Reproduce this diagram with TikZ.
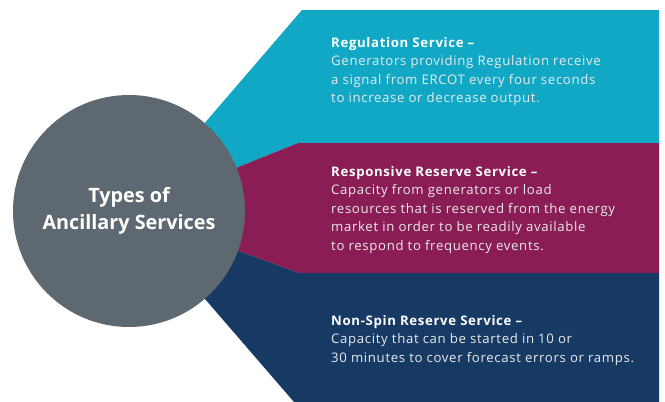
\documentclass[tikz,border=0pt]{standalone}
\usepackage{fontspec}
\setmainfont{Open Sans}
\newfontfamily\descfont{Open Sans}[LetterSpace=5]
\usepackage{tikz}
\usetikzlibrary{calc}

\definecolor{regteal}{RGB}{16,168,197}
\definecolor{rrsplum}{RGB}{139,29,85}
\definecolor{nsnavy}{RGB}{23,58,100}
\definecolor{hubgray}{RGB}{94,104,112}
\definecolor{bodytext}{RGB}{232,234,236}

\begin{document}
\begin{tikzpicture}[x=1pt,y=-1pt]
		\tikzstyle{band}=[draw=none];
		\tikzstyle{hub}=[circle,fill=hubgray,minimum size=232pt,inner sep=0pt,
			text=white,align=center,font=\bfseries\fontsize{19.8}{27}\selectfont];
		\tikzstyle{desc}=[anchor=north west,inner sep=0pt,align=left,text=bodytext,
			font=\descfont\fontsize{13.2}{18.5}\selectfont];
		\useasboundingbox(0,0)rectangle(665,402);
		\coordinate(c)at(129,211);
		\fill[band,regteal](c)--(302,10)--(659,10)--(659,143)--(298,143)--cycle;
		\fill[band,rrsplum](c)--(298,143)--(659,143)--(659,273)--(299,273)--cycle;
		\fill[band,nsnavy](c)--(299,273)--(659,273)--(659,402)--(294,402)--cycle;
		\node[hub](types)at(c){Types of\\Ancillary Services};

		\node[desc](reg)at(331,37){\textbf{\color{white}Regulation Service –}\\
			Generators providing Regulation receive\\
			a signal from ERCOT every four seconds\\
			to increase or decrease output.};
		\node[desc](rrs)at(331,166){\textbf{\color{white}Responsive Reserve Service –}\\
			Capacity from generators or load\\
			resources that is reserved from the energy\\
			market in order to be readily available\\
			to respond to frequency events.};
		\node[desc](nsrs)at(331,315){\textbf{\color{white}Non-Spin Reserve Service –}\\
			Capacity that can be started in 10 or\\
			30 minutes to cover forecast errors or ramps.};
	\end{tikzpicture}
\end{document}
